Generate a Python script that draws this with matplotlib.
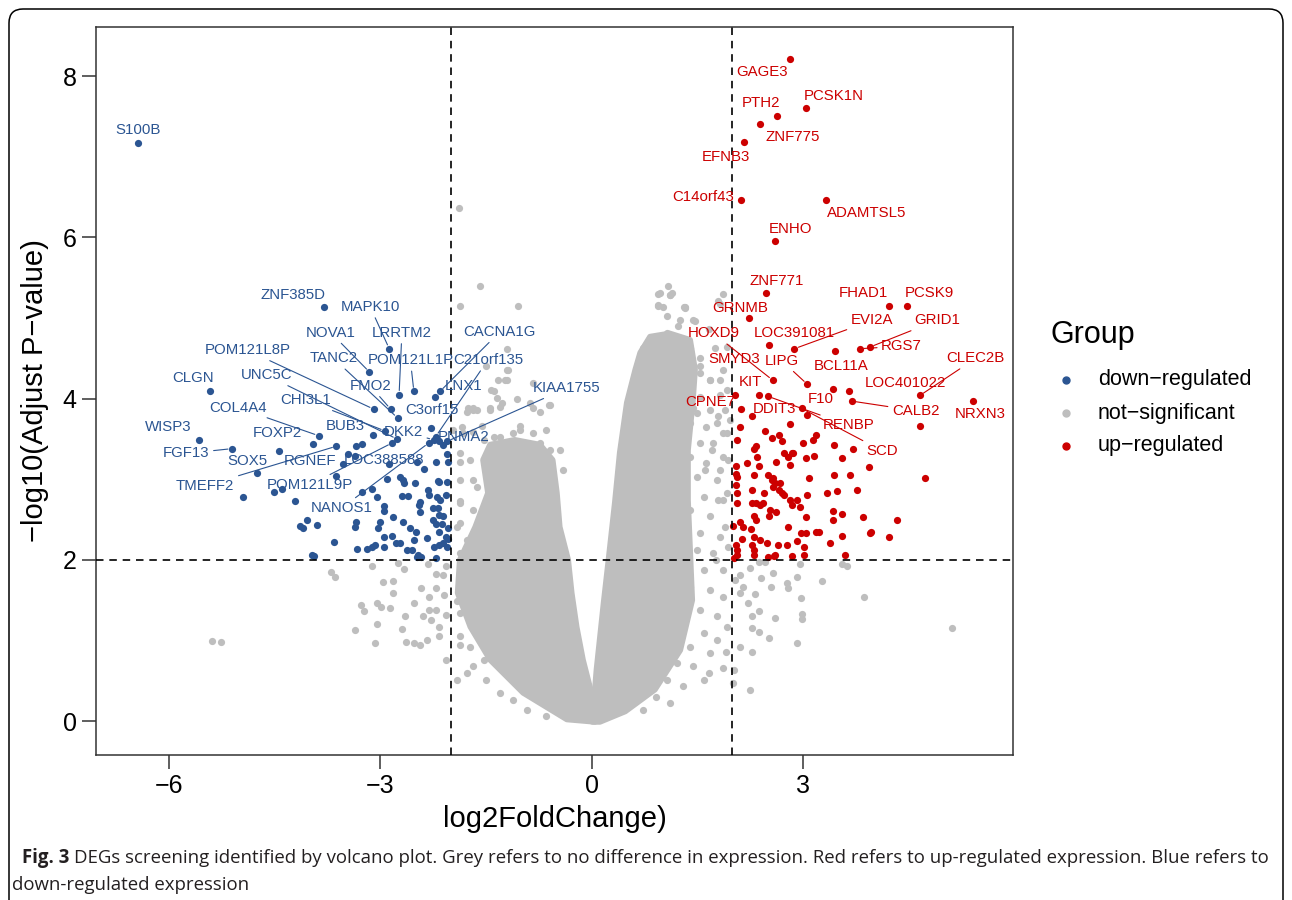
import matplotlib
matplotlib.use("Agg")
import matplotlib.pyplot as plt
from matplotlib.patches import Polygon, FancyBboxPatch
from matplotlib.lines import Line2D
from matplotlib.transforms import IdentityTransform

plt.rcParams['font.family'] = ['Liberation Sans', 'DejaVu Sans']

BLUE = "#2B5592"
RED = "#CC0000"
GREY = "#BEBEBE"

# labelled down-regulated genes: (log2FC, -log10 padj)
down_genes = ["S100B", "ZNF385D", "MAPK10", "NOVA1", "LRRTM2", "POM121L8P", "TANC2",
              "POM121L1P", "C21orf135", "CACNA1G", "UNC5C", "FMO2", "LNX1", "CLGN",
              "KIAA1755", "CHI3L1", "C3orf15", "COL4A4", "WISP3", "BUB3", "FOXP2", "DKK2",
              "PNMA2", "FGF13", "SOX5", "RGNEF", "LOC388588", "TMEFF2", "POM121L9P", "NANOS1"]
down_lfc = [-6.44, -3.79, -2.87, -3.15, -2.73, -3.09, -2.75, -2.52, -2.21, -2.15, -2.76,
            -2.85, -2.22, -5.41, -2.05, -2.93, -2.28, -3.87, -5.57, -3.10, -3.95, -2.24,
            -2.17, -5.10, -4.74, -3.45, -3.26, -3.62, -2.83, -2.31]
down_p = [7.17, 5.14, 4.62, 4.33, 4.05, 3.87, 3.76, 4.09, 3.53, 4.09, 3.50, 3.87, 4.02,
          4.09, 3.47, 3.60, 3.63, 3.54, 3.49, 3.55, 3.44, 3.49, 3.47, 3.38, 3.08, 3.31,
          3.44, 3.41, 3.45, 3.45]

# other down-regulated genes
down_other = [(-3.34, 3.41), (-3.52, 3.19), (-3.35, 3.29), (-3.63, 3.04), (-2.90, 3.00),
              (-2.87, 3.19), (-4.50, 2.84), (-4.39, 2.88), (-4.94, 2.78), (-4.21, 2.73),
              (-3.26, 2.84), (-3.12, 2.88), (-3.04, 2.78), (-2.95, 2.67), (-2.95, 2.61),
              (-4.04, 2.50), (-4.10, 2.40), (-3.89, 2.43), (-3.34, 2.47), (-3.35, 2.41),
              (-3.00, 2.47), (-3.03, 2.40), (-2.82, 2.53), (-3.65, 2.22), (-3.33, 2.14),
              (-3.19, 2.14), (-3.12, 2.16), (-3.07, 2.19), (-2.94, 2.28), (-2.83, 2.30),
              (-2.78, 2.21), (-3.97, 2.06), (-3.94, 2.05), (-2.67, 2.47), (-2.58, 2.40),
              (-2.49, 2.34), (-2.52, 2.25), (-2.34, 2.27), (-2.55, 2.12), (-2.48, 2.04),
              (-2.42, 2.03), (-2.20, 2.02), (-2.17, 2.19), (-2.11, 2.21), (-2.05, 2.16),
              (-2.04, 2.26), (-2.07, 2.29), (-2.25, 2.50), (-2.21, 2.45), (-2.16, 2.56),
              (-2.25, 2.64), (-2.18, 2.64), (-2.43, 2.60), (-2.45, 2.68), (-2.30, 2.81),
              (-2.19, 2.78), (-2.06, 2.81), (-2.32, 2.87), (-2.17, 2.97), (-2.69, 2.79),
              (-2.61, 2.79), (-2.66, 2.96), (-2.51, 2.95), (-2.11, 3.42), (-2.05, 3.31),
              (-2.20, 3.22), (-2.04, 3.21), (-2.48, 3.21), (-2.38, 3.13), (-2.71, 3.03),
              (-2.67, 2.99), (-2.18, 2.98), (-2.05, 2.97), (-2.15, 2.74), (-2.43, 2.72),
              (-2.12, 2.45), (-2.10, 2.54), (-2.17, 2.35), (-2.03, 2.39), (-2.95, 2.16),
              (-2.72, 2.21), (-2.62, 2.12), (-2.46, 2.06), (-2.24, 2.16), (-4.13, 2.42),
              (-4.43, 3.35)]

# labelled up-regulated genes
up_genes = ["GAGE3", "PCSK1N", "PTH2", "ZNF775", "EFNB3", "C14orf43", "ADAMTSL5", "ENHO",
            "ZNF771", "FHAD1", "PCSK9", "GRNMB", "EVI2A", "GRID1", "LOC391081", "RGS7",
            "BCL11A", "HOXD9", "SMYD3", "LIPG", "CLEC2B", "LOC401022", "KIT", "F10",
            "CALB2", "NRXN3", "CPNE7", "DDIT3", "RENBP", "SCD"]
up_lfc = [2.81, 3.04, 2.63, 2.39, 2.17, 2.12, 3.32, 2.60, 2.48, 4.22, 4.48, 2.24, 2.88,
          3.95, 2.52, 3.81, 3.46, 2.57, 2.12, 3.06, 4.66, 3.65, 2.37, 3.42, 3.69, 5.41,
          2.03, 3.06, 2.50, 2.98]
up_p = [8.21, 7.60, 7.51, 7.41, 7.18, 6.46, 6.46, 5.95, 5.31, 5.15, 5.15, 5.00, 4.62,
        4.64, 4.66, 4.62, 4.59, 4.23, 3.87, 4.18, 4.04, 4.10, 4.05, 4.12, 3.97, 3.97,
        4.05, 3.80, 4.03, 3.88]

up_other = [(4.66, 3.66), (4.73, 3.02), (2.11, 3.65), (2.27, 3.78), (2.07, 3.49), (2.46, 3.60),
            (2.82, 3.69), (2.56, 3.51), (2.66, 3.55), (2.70, 3.47), (2.34, 3.41), (2.30, 3.37),
            (3.00, 3.45), (3.14, 3.49), (3.19, 3.55), (3.44, 3.42), (3.71, 3.38), (2.35, 3.28),
            (2.62, 3.22), (2.73, 3.32), (2.79, 3.28), (2.86, 3.32), (3.04, 3.27), (3.55, 3.27),
            (3.93, 3.15), (2.05, 3.16), (2.21, 3.20), (2.37, 3.16), (2.81, 3.18), (2.06, 3.03),
            (2.58, 3.01), (2.60, 2.96), (3.08, 3.01), (3.44, 3.05), (3.67, 3.05), (3.77, 2.87),
            (3.34, 2.83), (3.49, 2.85), (2.27, 2.87), (2.45, 2.83), (2.06, 2.83), (2.66, 2.87),
            (2.73, 2.81), (2.82, 2.74), (2.91, 2.74), (2.96, 2.66), (2.39, 2.68), (2.34, 2.70),
            (2.06, 2.70), (2.53, 2.62), (2.30, 2.54), (2.34, 2.50), (3.43, 2.61), (3.55, 2.57),
            (3.04, 2.53), (3.85, 2.53), (4.33, 2.50), (2.79, 2.41), (3.42, 2.50), (2.15, 2.41),
            (3.19, 2.35), (3.05, 2.33), (3.95, 2.33), (4.22, 2.29), (3.55, 2.30), (2.30, 2.29),
            (2.39, 2.25), (2.49, 2.21), (2.65, 2.19), (2.77, 2.19), (3.01, 2.16), (3.39, 2.21),
            (3.60, 2.06), (2.05, 2.19), (2.07, 2.12), (2.30, 2.12), (2.60, 2.06), (3.01, 2.06),
            (2.06, 2.06), (3.06, 2.81), (3.97, 2.35), (3.23, 2.35), (2.97, 2.33), (2.91, 2.24),
            (2.85, 2.05), (2.59, 2.05), (2.51, 2.03), (2.62, 2.59), (2.52, 2.54), (2.28, 2.19),
            (2.30, 2.06), (2.26, 2.38), (2.11, 2.47), (2.01, 2.42), (2.14, 2.26), (2.02, 2.02),
            (2.27, 2.70), (2.44, 2.70), (2.30, 3.05), (2.05, 2.93), (2.05, 3.07), (2.51, 3.05),
            (2.56, 2.99), (2.67, 2.96), (2.58, 2.91), (2.70, 2.83), (2.85, 2.68), (2.85, 3.33),
            (3.15, 3.29)]

# not-significant genes away from the dense core
ns_pts = [(-1.88, 6.36), (-1.58, 5.40), (-1.87, 5.15), (-1.04, 5.15), (-1.20, 4.62),
          (1.09, 5.40), (0.95, 5.30), (1.11, 5.29), (0.94, 5.15), (1.33, 5.12), (1.07, 5.03),
          (1.47, 4.96), (1.23, 4.90), (1.66, 4.87), (1.87, 5.30), (1.80, 5.21), (1.14, 5.31),
          (1.82, 5.18), (1.31, 5.14), (1.02, 5.14), (0.73, 4.63), (0.88, 4.65), (1.21, 4.63),
          (1.40, 4.63), (0.78, 4.50), (0.69, 4.32), (1.54, 4.41), (1.75, 4.63), (1.68, 4.23),
          (1.82, 4.05), (1.44, 3.88), (1.78, 3.70), (1.35, 4.60), (1.92, 4.64), (1.87, 4.35),
          (1.92, 4.11), (1.89, 3.86), (1.96, 3.73), (1.92, 3.57), (1.94, 3.24), (1.92, 2.83),
          (1.89, 2.41), (1.94, 2.16), (1.71, 3.36), (1.79, 2.74), (1.77, 2.00), (1.61, 3.11),
          (1.82, 3.11), (-1.32, 4.23), (-1.20, 4.36), (-1.34, 4.01), (-1.44, 3.88),
          (-1.06, 3.99), (-0.83, 3.88), (-0.61, 3.92), (-1.77, 3.83), (-1.68, 3.88),
          (-1.96, 3.61), (-1.56, 3.66), (-1.01, 3.66), (-0.83, 3.57), (-0.64, 3.61),
          (-1.30, 3.21), (-1.06, 3.17), (-1.49, 3.26), (-1.87, 3.21), (-0.83, 3.30),
          (-1.68, 2.99), (-1.30, 2.90), (-0.92, 2.95), (-0.64, 3.08), (-1.87, 2.73),
          (-1.49, 2.64), (-1.11, 2.73), (-1.87, 2.46), (-1.68, 2.28), (-1.34, 2.37),
          (-1.23, 4.23), (-1.42, 4.11), (-1.30, 3.90), (-1.75, 3.88), (-1.63, 3.86),
          (-1.84, 3.65), (-1.68, 3.59), (-1.39, 3.53), (-1.30, 3.40), (-1.11, 3.57),
          (-0.59, 3.92), (-0.73, 3.84), (-0.92, 3.42), (-3.70, 1.85), (-3.64, 1.79),
          (-3.11, 1.93), (-2.96, 1.73), (-2.81, 1.74), (-2.82, 1.59), (-2.75, 1.96),
          (-2.66, 1.89), (-2.32, 1.95), (-2.21, 1.82), (-2.42, 1.65), (-2.31, 1.54),
          (-2.20, 1.65), (-2.09, 1.57), (-2.52, 1.46), (-3.27, 1.44), (-3.23, 1.37),
          (-3.04, 1.46), (-2.98, 1.42), (-2.86, 1.40), (-2.65, 1.31), (-2.39, 1.30),
          (-2.30, 1.38), (-2.21, 1.38), (-2.28, 1.26), (-2.16, 1.17), (-2.07, 1.32),
          (-3.04, 1.21), (-3.35, 1.13), (-2.69, 1.14), (-3.07, 0.97), (-2.63, 0.98),
          (-2.52, 0.97), (-2.43, 0.95), (-2.33, 1.01), (-2.16, 1.05), (-2.07, 0.76),
          (-5.39, 0.99), (-5.25, 0.98), (-2.06, 1.93), (-2.11, 1.81), (-1.91, 1.49),
          (-1.87, 0.95), (-1.77, 0.60), (-1.68, 1.22), (-1.91, 0.51), (2.96, 1.95),
          (3.27, 1.74), (3.87, 1.54), (5.12, 1.15), (2.91, 1.79), (2.77, 1.71), (2.79, 1.65),
          (2.97, 1.53), (2.98, 1.33), (2.98, 1.27), (2.91, 0.97), (2.60, 1.28), (2.52, 1.03),
          (2.38, 1.36), (2.27, 1.31), (2.27, 1.15), (2.37, 1.10), (2.25, 0.39), (2.10, 0.92),
          (2.27, 0.86), (2.01, 0.47), (2.02, 0.64), (1.91, 0.86), (2.57, 1.84), (2.40, 1.77),
          (2.55, 1.67), (2.32, 1.58), (2.22, 1.46), (2.11, 1.59), (3.62, 1.92), (3.55, 1.95),
          (2.37, 1.98), (2.25, 1.90), (2.46, 1.98), (2.11, 1.81), (2.04, 1.75), (2.15, 1.67),
          (1.86, 0.66), (1.92, 1.17), (1.78, 1.01), (1.66, 0.60), (1.60, 0.51)]

# not-significant genes in the looser rim of the V
ns_rim = [(1.11, 5.28), (0.97, 5.31), (0.95, 5.16), (1.33, 5.14), (1.26, 4.98), (1.44, 4.98),
          (1.07, 4.81), (1.21, 4.60), (1.40, 4.60), (1.54, 4.50), (1.40, 4.35), (1.54, 4.32),
          (1.68, 4.23), (1.82, 4.23), (1.16, 4.19), (1.35, 4.11), (1.54, 4.02), (1.26, 3.95),
          (1.49, 3.82), (1.68, 3.86), (1.80, 3.78), (1.40, 3.70), (1.63, 3.65), (1.87, 3.57),
          (1.16, 3.65), (1.30, 3.53), (1.54, 3.45), (1.73, 3.45), (1.40, 3.28), (1.63, 3.20),
          (1.87, 3.28), (1.21, 3.12), (1.49, 3.03), (1.78, 2.99), (1.30, 2.87), (1.59, 2.78),
          (1.87, 2.74), (1.40, 2.62), (1.68, 2.54), (1.16, 2.54), (1.30, 2.37), (1.54, 2.33),
          (1.82, 2.29), (1.21, 2.21), (1.49, 2.12), (1.73, 2.08), (1.35, 1.96), (1.59, 1.88),
          (1.87, 1.88), (1.16, 1.75), (1.40, 1.67), (1.68, 1.63), (1.87, 1.54), (1.26, 1.46),
          (1.54, 1.38), (1.78, 1.30), (1.30, 1.21), (1.59, 1.09), (1.16, 1.01), (1.40, 0.92),
          (1.68, 0.84), (1.21, 0.72), (1.44, 0.68), (1.07, 0.51), (1.30, 0.43), (0.92, 0.30),
          (1.11, 0.22), (0.73, 0.14), (-1.18, 4.35), (-1.20, 4.23), (-1.39, 4.09),
          (-1.27, 3.94), (-0.87, 3.94), (-1.44, 3.86), (-1.68, 3.86), (-1.01, 3.61),
          (-1.82, 3.57), (-1.53, 3.49), (-1.30, 3.53), (-0.73, 3.45), (-0.59, 3.36),
          (-1.87, 3.32), (-1.72, 3.24), (-1.20, 3.16), (-0.92, 3.12), (-1.87, 2.99),
          (-1.63, 2.91), (-1.87, 2.70), (-1.68, 2.62), (-1.49, 2.54), (-1.91, 2.41),
          (-1.77, 2.25), (-1.53, 2.16), (-1.87, 2.08), (-1.68, 1.96), (-1.87, 1.79),
          (-1.77, 1.59), (-1.87, 1.34), (-1.68, 1.26), (-1.87, 1.05), (-1.72, 0.92),
          (-1.53, 0.76), (-1.68, 0.68), (-1.49, 0.51), (-1.30, 0.35), (-1.11, 0.26),
          (-0.92, 0.14), (-0.64, 0.06), (-0.45, 3.36), (-0.40, 3.11), (-0.83, 4.19),
          (-1.49, 4.40)]

# outline of the solid not-significant core (two arms of the V)
core_left = [(0.05, -0.01), (0.00, 0.35), (-0.12, 0.76), (-0.21, 1.17), (-0.28, 1.59),
             (-0.33, 2.00), (-0.45, 2.41), (-0.49, 2.83), (-0.55, 3.24), (-0.73, 3.43),
             (-1.09, 3.49), (-1.44, 3.43), (-1.54, 3.24), (-1.47, 2.83), (-1.65, 2.41),
             (-1.87, 2.00), (-1.90, 1.59), (-1.72, 1.17), (-1.44, 0.76), (-0.97, 0.35),
             (-0.35, 0.02)]
core_right = [(0.01, -0.01), (0.07, 0.64), (0.17, 1.46), (0.24, 2.00), (0.33, 2.71),
              (0.40, 3.33), (0.50, 3.95), (0.62, 4.36), (0.69, 4.57), (0.83, 4.77),
              (1.11, 4.81), (1.40, 4.73), (1.47, 4.36), (1.44, 3.98), (1.37, 3.36),
              (1.37, 2.74), (1.40, 2.12), (1.43, 1.50), (1.26, 0.88), (0.90, 0.39),
              (0.48, 0.12), (0.12, -0.01)]

x_ticks = [-6, -3, 0, 3]
y_ticks = [0, 2, 4, 6, 8]
groups = ["down\u2212regulated", "not\u2212significant", "up\u2212regulated"]

# where each gene label sits (ggrepel result) and which ones get a segment
label_pos = {
    "S100B": (-6.44, 7.33), "ZNF385D": (-4.24, 5.28), "MAPK10": (-3.14, 5.14),
    "NOVA1": (-3.70, 4.82), "LRRTM2": (-2.69, 4.82), "POM121L8P": (-4.88, 4.60),
    "TANC2": (-3.66, 4.50), "POM121L1P": (-2.57, 4.48), "C21orf135": (-1.47, 4.48),
    "CACNA1G": (-1.30, 4.83), "UNC5C": (-4.61, 4.29), "FMO2": (-3.14, 4.16),
    "LNX1": (-1.82, 4.16), "CLGN": (-5.66, 4.26), "KIAA1755": (-0.35, 4.13),
    "CHI3L1": (-4.05, 3.98), "C3orf15": (-2.27, 3.86), "COL4A4": (-5.02, 3.89),
    "WISP3": (-6.01, 3.65), "BUB3": (-3.50, 3.66), "FOXP2": (-4.45, 3.58),
    "DKK2": (-2.67, 3.59), "PNMA2": (-1.82, 3.53), "FGF13": (-5.75, 3.32),
    "SOX5": (-4.88, 3.23), "RGNEF": (-4.00, 3.23), "LOC388588": (-2.95, 3.24),
    "TMEFF2": (-5.48, 2.92), "POM121L9P": (-4.00, 2.93), "NANOS1": (-3.55, 2.64),
    "GAGE3": (2.42, 8.05), "PCSK1N": (3.44, 7.76), "PTH2": (2.40, 7.67),
    "ZNF775": (2.86, 7.24), "EFNB3": (1.91, 7.00), "C14orf43": (1.58, 6.50),
    "ADAMTSL5": (3.91, 6.30), "ENHO": (2.83, 6.10), "ZNF771": (2.63, 5.46),
    "FHAD1": (3.86, 5.31), "PCSK9": (4.79, 5.31), "GRNMB": (2.11, 5.13),
    "EVI2A": (3.98, 4.97), "GRID1": (4.90, 4.97), "LOC391081": (2.88, 4.81),
    "RGS7": (4.40, 4.65), "BCL11A": (3.54, 4.41), "HOXD9": (1.73, 4.81),
    "SMYD3": (2.02, 4.49), "LIPG": (2.70, 4.47), "CLEC2B": (5.45, 4.50),
    "LOC401022": (4.45, 4.19), "KIT": (2.26, 4.21), "F10": (3.25, 4.00),
    "CALB2": (4.60, 3.85), "NRXN3": (5.51, 3.81), "CPNE7": (1.68, 3.96),
    "DDIT3": (2.60, 3.87), "RENBP": (3.65, 3.67), "SCD": (4.13, 3.35),
}
with_segment = {"MAPK10", "NOVA1", "LRRTM2", "POM121L8P", "TANC2", "POM121L1P",
                "C21orf135", "CACNA1G", "UNC5C", "FMO2", "KIAA1755", "CHI3L1", "COL4A4",
                "DKK2", "FGF13", "TMEFF2", "POM121L9P", "NANOS1", "EVI2A", "GRID1",
                "RGS7", "HOXD9", "LIPG", "CLEC2B", "CALB2", "RENBP", "SCD"}

W, H = 1292, 900
fig = plt.figure(figsize=(W / 100, H / 100), dpi=100)
ax = fig.add_axes([96 / W, 1 - 755 / H, (1013 - 96) / W, (755 - 27) / H])

for arm in (core_left, core_right):
    ax.add_patch(Polygon(arm, closed=True, fc=GREY, ec=GREY, lw=4,
                         joinstyle="round", zorder=1))

pt_size = 27
for pts in (ns_pts, ns_rim):
    ax.scatter([p[0] for p in pts], [p[1] for p in pts], s=pt_size, c=GREY, lw=0, zorder=2)
ax.scatter([p[0] for p in down_other], [p[1] for p in down_other], s=pt_size, c=BLUE, lw=0, zorder=3)
ax.scatter(down_lfc, down_p, s=pt_size, c=BLUE, lw=0, zorder=3)
ax.scatter([p[0] for p in up_other], [p[1] for p in up_other], s=pt_size, c=RED, lw=0, zorder=3)
ax.scatter(up_lfc, up_p, s=pt_size, c=RED, lw=0, zorder=3)

dash = (0, (4.5, 3.5))
ax.axvline(-2, color="black", lw=1.2, ls=dash, zorder=4)
ax.axvline(2, color="black", lw=1.2, ls=dash, zorder=4)
ax.axhline(2, color="black", lw=1.2, ls=dash, zorder=4)


def put_labels(names, xs, ys, color):
    for name, x, y in zip(names, xs, ys):
        lx, ly = label_pos[name]
        arrow = None
        if name in with_segment:
            arrow = dict(arrowstyle="-", color=color, lw=0.8, shrinkA=1, shrinkB=3)
        ax.annotate(name, xy=(x, y), xytext=(lx, ly), ha="center", va="center",
                    fontsize=10.8, color=color, arrowprops=arrow, zorder=5)


put_labels(down_genes, down_lfc, down_p, BLUE)
put_labels(up_genes, up_lfc, up_p, RED)

ax.set_xlim(-7.03, 5.98)
ax.set_ylim(-0.42, 8.61)
ax.set_xticks(x_ticks)
ax.set_yticks(y_ticks)
ax.tick_params(length=10, width=1.1, labelsize=18, pad=4, color="#333333")
for s in ax.spines.values():
    s.set_linewidth(1.1)
    s.set_color("#333333")
ax.set_xlabel("log2FoldChange)", fontsize=21, labelpad=5)
ax.set_ylabel("\u2212log10(Adjust P\u2212value)", fontsize=21, labelpad=10)

# legend
fig.text(1050 / W, 1 - 335 / H, "Group", fontsize=22, va="center", ha="left")
for i, (lab, col) in enumerate(zip(groups, [BLUE, GREY, RED])):
    yy = 1 - (380 + 33 * i) / H
    fig.add_artist(Line2D([1066 / W], [yy], marker="o", ms=5, color=col, lw=0,
                          transform=fig.transFigure))
    fig.text(1098 / W, yy, lab, fontsize=15.5, va="center", ha="left")

# panel frame and caption
fig.add_artist(FancyBboxPatch((9, -30), 1274, H - 9 + 30,
                              boxstyle="round,pad=0,rounding_size=14",
                              transform=IdentityTransform(), fill=False,
                              ec="black", lw=1.1))
cap_kw = dict(fontsize=13.4, va="center", ha="left", color="#231F20", family="Open Sans")
t1 = fig.text(22 / W, 1 - 858 / H, "Fig. 3", fontweight="bold", **cap_kw)
fig.canvas.draw()
bb = t1.get_window_extent()
fig.text((bb.x1 + 5) / W, 1 - 858 / H,
         "DEGs screening identified by volcano plot. Grey refers to no difference in "
         "expression. Red refers to up-regulated expression. Blue refers to", **cap_kw)
fig.text(12 / W, 1 - 885 / H, "down-regulated expression", **cap_kw)

fig.savefig("out.png", dpi=100)
